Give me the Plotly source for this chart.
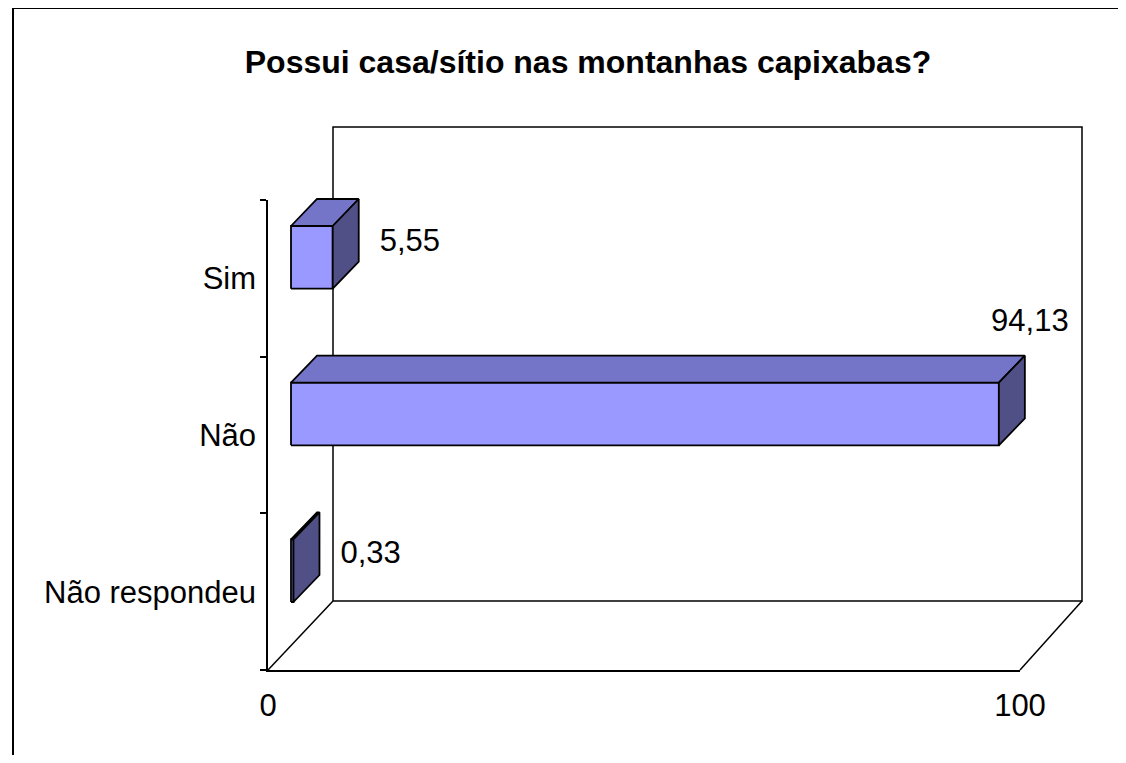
import plotly.graph_objects as go

# ---------------- data ----------------
categories = ["Não respondeu", "Não", "Sim"]   # bottom -> top
values = [0.33, 94.13, 5.55]
value_labels = ["0,33", "94,13", "5,55"]
x_tick_vals = [0, 100]
x_tick_text = ["0", "100"]
title = "<b>Possui casa/sítio nas montanhas capixabas?</b>"

# ---------------- layout geometry (pixels) ----------------
OFF = 8                            # page body margin compensation
W, H = 1126 - 2 * OFF, 763 - 2 * OFF
X0_PX, X100_PX = 268 - OFF, 1020 - OFF   # front plane value axis
YBOT_PX, YTOP_PX = 670 - OFF, 200 - OFF  # front plane category axis
SX = (X100_PX - X0_PX) / 100.0    # px per value unit
NCAT = len(categories)
SY = (YBOT_PX - YTOP_PX) / NCAT   # px per category


def ux(px):
    return px / SX


def uy(px):
    return px / SY


# depth offsets (in px, converted to data units)
WALL_DXL, WALL_DXR, WALL_DY, WALL_TOP = ux(65), ux(62), uy(69), uy(73)
BF_DX, BF_DY = ux(23), uy(21)     # bar front face offset
BB_DX, BB_DY = ux(49), uy(48)     # bar back face offset
BAR_HALF = 0.2                    # gap width 150%

FRONT_C = "#9999FF"
TOP_C = "#7474C8"
SIDE_C = "#505086"
FONT = "Liberation Sans, Arial, sans-serif"
FS = 31
TITLE_FS = 32

LBL_DX = [ux(21), ux(5), ux(21)]
LBL_DY = [uy(36), uy(112), uy(35)]
LBL_POS = ["middle right", "middle center", "middle right"]

fig = go.Figure()


def poly(xs, ys, fill, width=1.8):
    fig.add_trace(go.Scatter(
        x=xs + [xs[0]], y=ys + [ys[0]], mode="lines", fill="toself",
        fillcolor=fill, line=dict(color="black", width=width),
        xaxis="x2", yaxis="y2", hoverinfo="skip", showlegend=False))


def line(xs, ys, width=1.5):
    fig.add_trace(go.Scatter(
        x=xs, y=ys, mode="lines", line=dict(color="black", width=width),
        xaxis="x2", yaxis="y2", hoverinfo="skip", showlegend=False))


# back wall and floor edges
xmax = x_tick_vals[-1]
line([WALL_DXL, xmax + WALL_DXR, xmax + WALL_DXR, WALL_DXL, WALL_DXL],
     [WALL_DY, WALL_DY, NCAT + WALL_TOP, NCAT + WALL_TOP, WALL_DY])
line([0, WALL_DXL], [0, WALL_DY])
line([xmax, xmax + WALL_DXR], [0, WALL_DY])

# 3D bars
for i, (cat, v) in enumerate(zip(categories, values)):
    yc = i + 0.5
    yb, yt = yc - BAR_HALF, yc + BAR_HALF
    # front face
    poly([BF_DX, v + BF_DX, v + BF_DX, BF_DX],
         [yb + BF_DY, yb + BF_DY, yt + BF_DY, yt + BF_DY], FRONT_C)
    # top face
    poly([BF_DX, v + BF_DX, v + BB_DX, BB_DX],
         [yt + BF_DY, yt + BF_DY, yt + BB_DY, yt + BB_DY], TOP_C)
    # side face
    poly([v + BF_DX, v + BB_DX, v + BB_DX, v + BF_DX],
         [yb + BF_DY, yb + BB_DY, yt + BB_DY, yt + BF_DY], SIDE_C)

# value labels
fig.add_trace(go.Scatter(
    x=[v + BB_DX + dx for v, dx in zip(values, LBL_DX)],
    y=[i + 0.5 + dy for i, dy in enumerate(LBL_DY)],
    mode="text", text=value_labels, textposition=LBL_POS,
    textfont=dict(family=FONT, size=FS, color="black"),
    xaxis="x2", yaxis="y2", hoverinfo="skip", showlegend=False,
    cliponaxis=False))

# dummy trace to activate front axes
fig.add_trace(go.Scatter(x=[None], y=[None], xaxis="x", yaxis="y",
                         showlegend=False, hoverinfo="skip"))

FX = (13 - OFF) / W
FY = 1 - (8 - OFF) / H

fig.update_layout(
    template="none",
    width=W, height=H,
    margin=dict(l=0, r=0, t=0, b=0, pad=0, autoexpand=False),
    paper_bgcolor="white", plot_bgcolor="rgba(0,0,0,0)",
    showlegend=False,
    title=dict(text=title, x=(588 - OFF) / W, y=1 - (62 - OFF) / H,
               xref="paper", yref="container", xanchor="center",
               yanchor="middle",
               font=dict(family=FONT, size=TITLE_FS, color="black")),
    xaxis=dict(domain=[X0_PX / W, X100_PX / W], range=[0, 100],
               anchor="y", tickmode="array", tickvals=x_tick_vals,
               ticktext=x_tick_text, ticks="", showgrid=False,
               zeroline=False, showline=True, linecolor="black",
               linewidth=1.5, ticklabelstandoff=7, automargin=False,
               tickfont=dict(family=FONT, size=FS, color="black")),
    yaxis=dict(domain=[(H - YBOT_PX) / H, (H - YTOP_PX) / H],
               range=[0, NCAT], anchor="x", tickmode="array",
               tickvals=[i + 0.5 for i in range(NCAT)], ticktext=categories,
               ticks="", showgrid=False, zeroline=False, showline=True,
               linecolor="black", linewidth=1.5, ticklabelstandoff=4,
               automargin=False,
               tickfont=dict(family=FONT, size=FS, color="black"),
               minor=dict(tickmode="array", tickvals=list(range(NCAT + 1)),
                          ticks="outside", ticklen=6, tickwidth=1.5,
                          tickcolor="black", showgrid=False)),
    xaxis2=dict(domain=[0, 1], anchor="y2", automargin=False,
                range=[-X0_PX / SX, (W - X0_PX) / SX], visible=False),
    yaxis2=dict(domain=[0, 1], anchor="x2", automargin=False,
                range=[-(H - YBOT_PX) / SY, YBOT_PX / SY], visible=False),
    shapes=[
        dict(type="line", xref="paper", yref="paper",
             x0=FX, x1=1.1, y0=FY, y1=FY,
             line=dict(color="black", width=2), layer="above"),
        dict(type="line", xref="paper", yref="paper",
             x0=FX, x1=FX, y0=FY, y1=-0.1,
             line=dict(color="black", width=2), layer="above"),
    ],
)

fig.write_html("out.html")
